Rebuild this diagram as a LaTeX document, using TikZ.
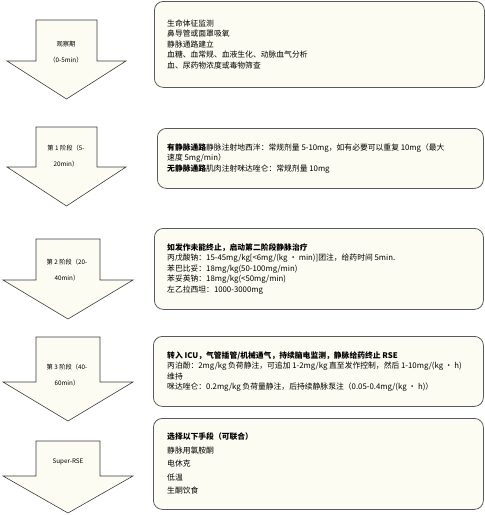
\documentclass[tikz,border=0pt]{standalone}
\usepackage{fontspec}
\setmainfont{Noto Sans CJK SC}
\usetikzlibrary{positioning}
\usepackage{xcolor}
\definecolor{boxfill}{HTML}{FCFCF3}
\definecolor{boxline}{HTML}{5A5A5A}
\definecolor{arrowline}{HTML}{3C3C3C}

\begin{document}
\begin{tikzpicture}[x=1pt, y=-1pt,
    phasebox/.style={draw=boxline, fill=boxfill, rounded corners=9pt, line width=0.8pt, anchor=north west, inner sep=0pt},
    boxtext/.style={align=left, font=\fontsize{7.8}{10.5}\selectfont, inner sep=0pt},
    arrowshape/.style={draw=arrowline, fill=boxfill, line width=0.6pt},
    arrowtext/.style={align=center, font=\fontsize{6.3}{16}\selectfont, inner sep=0pt}]
  \useasboundingbox (0,0) rectangle (485,515);

  % Phase arrows: top / shoulder / tip / stem right / head right
  \foreach \t/\s/\e/\r/\h in {20/61/99/97/126, 127/167/206/97/126, 239/280/319/100/133, 337/382/421/100/133, 441/476/513/100/133}
    \draw[arrowshape] (36,\t) -- (\r,\t) -- (\r,\s) -- (\h,\s) -- ({(36+\r)/2},\e)
      -- ({36+\r-\h},\s) -- (36,\s) -- cycle;

  % Arrow labels
  \node[arrowtext] (obslabel) at (66,52) {观察期\\（0-5min）};
  \node[arrowtext] (stageonelabel) at (66,156) {第 1 阶段（5-\\20min）};
  \node[arrowtext] (stagetwolabel) at (67,270) {第 2 阶段（20-\\40min）};
  \node[arrowtext] (stagethreelabel) at (67,375) {第 3 阶段（40-\\60min）};
  \node[arrowtext] (superlabel) at (68,462) {Super-RSE};

  % Observation phase
  \node[phasebox, minimum width=330pt, minimum height=86pt] (obsbox) at (154,1) {};
  \node[boxtext, right=13pt of obsbox.west, anchor=west] (obstext) {生命体征监测\\
    鼻导管或面罩吸氧\\
    静脉通路建立\\
    血糖、血常规、血液生化、动脉血气分析\\
    血、尿药物浓度或毒物筛查};

  % Stage 1
  \node[phasebox, minimum width=326pt, minimum height=60pt] (stageonebox) at (157,128) {};
  \node[boxtext, right=10pt of stageonebox.west, anchor=west] (stageonetext) {\textbf{有静脉通路}静脉注射地西泮：常规剂量 5-10mg，如有必要可以重复 10mg（最大\\
    速度 5mg/min）\\
    \textbf{无静脉通路}肌肉注射咪达唑仑：常规剂量 10mg};

  % Stage 2
  \node[phasebox, minimum width=329pt, minimum height=81pt] (stagetwobox) at (154,228) {};
  \node[boxtext, right=13pt of stagetwobox.west, anchor=west] (stagetwotext) {\textbf{如发作未能终止，启动第二阶段静脉治疗}\\
    丙戊酸钠：15-45mg/kg[<6mg/(kg ・ min)]团注，给药时间 5min.\\
    苯巴比妥：18mg/kg(50-100mg/min)\\
    苯妥英钠：18mg/kg(<50mg/min)\\
    左乙拉西坦：1000-3000mg};

  % Stage 3
  \node[phasebox, minimum width=330pt, minimum height=70pt] (stagethreebox) at (153,336) {};
  \node[boxtext, right=14pt of stagethreebox.west, anchor=west] (stagethreetext) {\textbf{转入 ICU，气管插管/机械通气，持续脑电监测，静脉给药终止 RSE}\\
    丙泊酚：2mg/kg 负荷静注，可追加 1-2mg/kg 直至发作控制，然后 1-10mg/(kg ・ h)\\
    维持\\
    咪达唑仑：0.2mg/kg 负荷量静注，后持续静脉泵注（0.05-0.4mg/(kg ・ h)）};

  % Super-RSE
  \node[phasebox, minimum width=330pt, minimum height=91pt] (superbox) at (153,418) {};
  \node[boxtext, right=14pt of superbox.west, anchor=west] (supertext) {\textbf{选择以下手段（可联合）}\\[3pt]
    静脉用氯胺酮\\[3pt]
    电休克\\[3pt]
    低温\\[3pt]
    生酮饮食};
\end{tikzpicture}
\end{document}
